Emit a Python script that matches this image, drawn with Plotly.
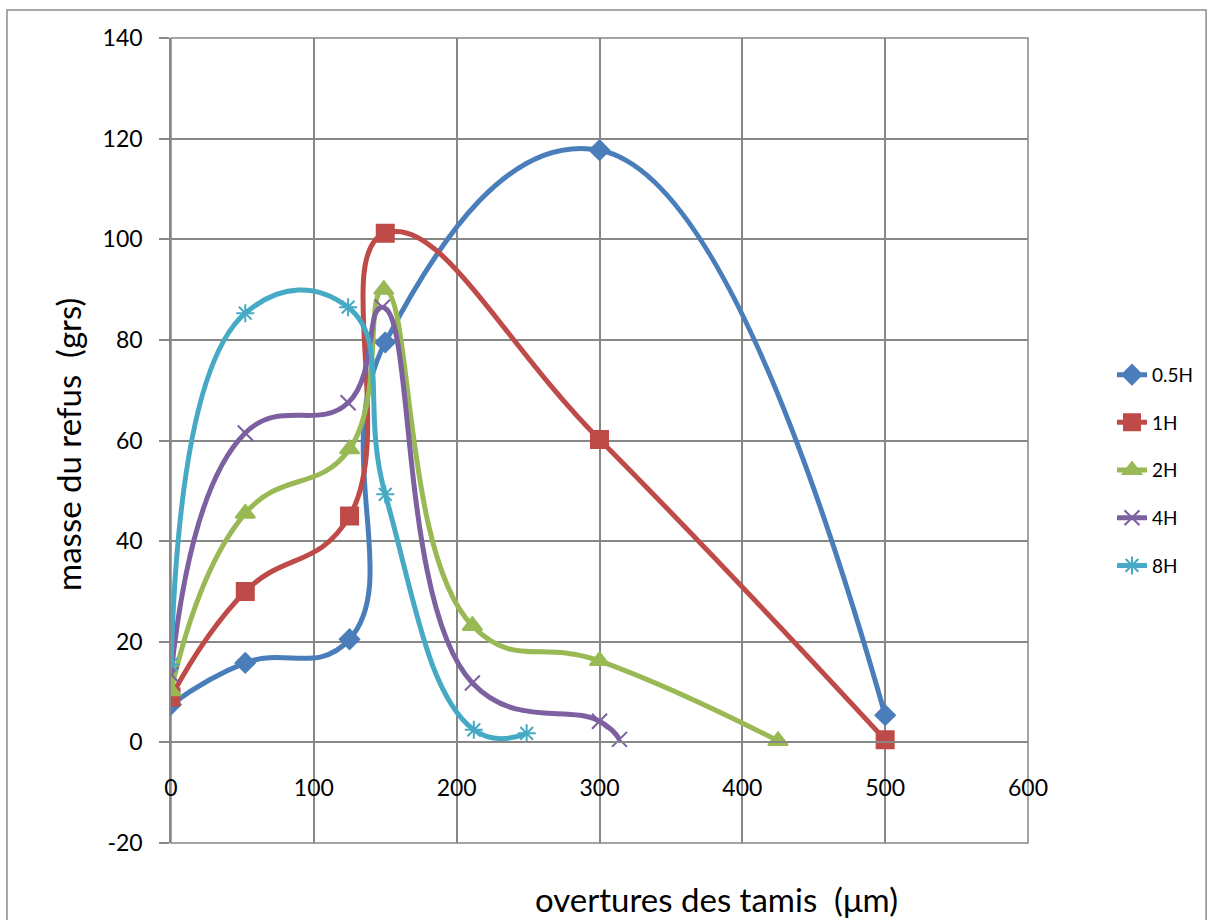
import plotly.graph_objects as go

# Data (sieve openings in µm, retained mass in g)
x_05h = [0, 52, 125, 150, 300, 500]
y_05h = [7.5, 15.8, 20.5, 79.5, 117.7, 5.4]

x_1h = [0, 52, 125, 150, 300, 500]
y_1h = [9.0, 30.0, 45.0, 101.2, 60.2, 0.5]

x_2h = [0, 52, 125, 149, 211, 300, 425]
y_2h = [10.2, 45.5, 58.3, 90.0, 23.2, 16.2, 0.3]

x_4h = [0, 52, 124, 148, 211, 300, 314]
y_4h = [13.5, 61.5, 67.5, 86.5, 11.8, 4.2, 0.6]

x_8h = [0, 52, 124, 150, 212, 249]
y_8h = [15.5, 85.3, 86.5, 49.3, 2.5, 1.8]

series_names = ["0.5H", "1H", "2H", "4H", "8H"]
series_x = [x_05h, x_1h, x_2h, x_4h, x_8h]
series_y = [y_05h, y_1h, y_2h, y_4h, y_8h]
colors = ["#4A7EBB", "#BE4B48", "#98B954", "#7D60A0", "#46AAC5"]
symbols = ["diamond", "square", "triangle-up", "x-thin-open", "asterisk-open"]
msizes = [15, 17, 17, 15, 15]

x_ticks = [0, 100, 200, 300, 400, 500, 600]
y_ticks = [-20, 0, 20, 40, 60, 80, 100, 120, 140]

x_title = "overtures des tamis  (μm)"
y_title = "masse du refus  (grs)"

FONT = "Lato"
GRID = "#878787"

fig = go.Figure()
for name, xs, ys, c, s, ms in zip(series_names, series_x, series_y, colors, symbols, msizes):
    fig.add_trace(go.Scatter(
        x=xs, y=ys, name=name, mode="lines+markers",
        line=dict(color=c, width=5, shape="spline", smoothing=1.3),
        marker=dict(symbol=s, size=ms, color=c, line=dict(color=c, width=2)),
        legendgroup=name,
    ))

fig.update_layout(
    width=1219, height=920,
    margin=dict(l=171, r=191, t=38, b=77),
    paper_bgcolor="white", plot_bgcolor="white",
    font=dict(family=FONT, color="#000000"),
    showlegend=True,
    legend=dict(x=1.098, y=0.463, xanchor="left", yanchor="middle",
                font=dict(size=19, family=FONT), tracegroupgap=20,
                bgcolor="rgba(0,0,0,0)"),
    xaxis=dict(range=[0, 600], tickvals=x_ticks, ticktext=[str(v) for v in x_ticks],
               showgrid=True, gridcolor=GRID, gridwidth=1.5,
               zeroline=False, showline=True, linecolor=GRID, linewidth=1.5,
               anchor="free", position=0.125, ticks="", ticklabelstandoff=25,
               tickfont=dict(size=23, family=FONT)),
    yaxis=dict(range=[-20, 140], tickvals=y_ticks, ticktext=[str(v) for v in y_ticks],
               showgrid=True, gridcolor=GRID, gridwidth=1.5,
               zeroline=False, showline=True, linecolor=GRID, linewidth=1.5,
               ticks="outside", ticklen=10, tickcolor=GRID, tickwidth=1.5,
               ticklabelstandoff=12,
               tickfont=dict(size=23, family=FONT)),
)

# axis titles placed like the original
fig.add_annotation(text=x_title, xref="paper", yref="paper", x=0.637, y=-0.0975,
                   xanchor="center", yanchor="bottom", showarrow=False,
                   font=dict(size=33, family=FONT, color="#000000"))
fig.add_annotation(text=y_title, xref="paper", yref="paper", x=-0.1202, y=0.4957,
                   xanchor="center", yanchor="middle", showarrow=False, textangle=-90,
                   font=dict(size=33, family=FONT, color="#000000"))

# plot-area frame and outer chart border
fig.add_shape(type="rect", xref="paper", yref="paper", x0=0, x1=1, y0=0, y1=1,
              line=dict(color=GRID, width=1.5), layer="below")
fig.add_shape(type="rect", xref="paper", yref="paper", x0=-0.1914, x1=1.2078, y0=-0.2, y1=1.0348,
              line=dict(color="#8C8C8C", width=1.5), layer="below")

fig.write_html("out.html")
